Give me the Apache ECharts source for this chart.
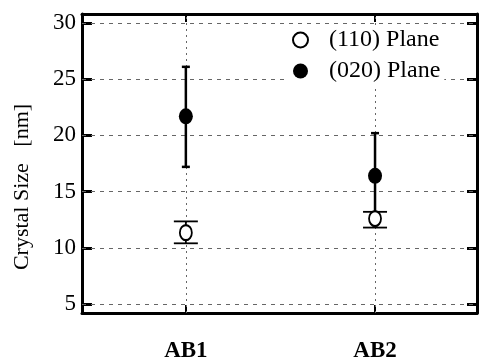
<!DOCTYPE html>
<html>
<head>
<meta charset="utf-8">
<script src="https://cdn.jsdelivr.net/npm/echarts@6/dist/echarts.min.js"></script>
<style>html,body{margin:0;padding:0;background:#fff}#c{width:479px;height:363px}</style>
</head>
<body>
<div id="c"></div>
<script>
var categories = ['AB1', 'AB2'];
var categoryPos = [1, 2];
var yTicks = [5, 10, 15, 20, 25, 30];
var plane110 = [11.35, 12.6];
var plane110Low = [10.4, 11.8];
var plane110High = [12.35, 13.2];
var plane020 = [21.7, 16.4];
var plane020Low = [17.2, 12.4];
var plane020High = [26.1, 20.2];
var yName = 'Crystal Size   [nm]';
var legendNames = ['(110) Plane', '(020) Plane'];

var FONT = '"Liberation Serif", "Times New Roman", Times, serif';
var XMIN = 0.451, XMAX = 2.539, YMIN = 4.2, YMAX = 30.8;

function errData(low, high) {
  return categoryPos.map(function (x, i) { return [x, low[i], high[i]]; });
}
function errRender(capHalf, lw) {
  return function (params, api) {
    var x = api.value(0);
    var lo = api.coord([x, api.value(1)]);
    var hi = api.coord([x, api.value(2)]);
    var st = { stroke: '#000', lineWidth: lw };
    return { type: 'group', children: [
      { type: 'line', shape: { x1: lo[0], y1: lo[1], x2: hi[0], y2: hi[1] }, style: st },
      { type: 'line', shape: { x1: lo[0] - capHalf, y1: lo[1], x2: lo[0] + capHalf, y2: lo[1] }, style: st },
      { type: 'line', shape: { x1: hi[0] - capHalf, y1: hi[1], x2: hi[0] + capHalf, y2: hi[1] }, style: st }
    ]};
  };
}

var gridLines = yTicks.map(function (v) { return { yAxis: v, lineStyle: { type: [4, 5], color: '#666', width: 1 } }; })
  .concat(categoryPos.map(function (v) { return { xAxis: v, lineStyle: { type: [2, 4], color: '#666', width: 1 } }; }));

var chart = echarts.init(document.getElementById('c'), null, { renderer: 'canvas' });
chart.setOption({
  animation: false,
  backgroundColor: '#fff',
  textStyle: { fontFamily: FONT },
  grid: { left: 82, right: 2, top: 14, bottom: 48, containLabel: false },
  legend: {
    orient: 'vertical', left: 288, top: 26, itemGap: 7,
    itemWidth: 15, itemHeight: 15,
    backgroundColor: '#fff', padding: [2, 4, 2, 4],
    textStyle: { fontFamily: FONT, fontSize: 24, color: '#000', padding: [0, 0, 0, 16] },
    data: legendNames
  },
  graphic: [{
    type: 'text', x: 22, y: 187, rotation: Math.PI / 2,
    style: { text: yName, fontFamily: FONT, fontSize: 22, fill: '#000', align: 'center', verticalAlign: 'middle' }
  }],
  xAxis: [{
    type: 'value', min: XMIN, max: XMAX, position: 'bottom',
    axisLine: { show: true, onZero: false, lineStyle: { color: '#000', width: 3 } },
    axisTick: { show: true, inside: true, length: 8, customValues: categoryPos, lineStyle: { color: '#000', width: 2 } },
    axisLabel: { show: true, customValues: categoryPos, margin: 27, fontFamily: FONT, fontSize: 23, fontWeight: 'bold', color: '#000',
      formatter: function (v) { var i = categoryPos.indexOf(Math.round(v)); return i >= 0 ? categories[i] : ''; } },
    splitLine: { show: false }
  }, {
    type: 'value', min: XMIN, max: XMAX, position: 'top',
    axisLine: { show: true, onZero: false, lineStyle: { color: '#000', width: 3 } },
    axisTick: { show: true, inside: true, length: 8, customValues: categoryPos, lineStyle: { color: '#000', width: 2 } },
    axisLabel: { show: false }, splitLine: { show: false }
  }],
  yAxis: [{
    type: 'value', min: YMIN, max: YMAX, position: 'left',
    axisLine: { show: true, onZero: false, lineStyle: { color: '#000', width: 3 } },
    axisTick: { show: true, inside: true, length: 10, customValues: yTicks, lineStyle: { color: '#000', width: 3 } },
    axisLabel: { show: true, customValues: yTicks, margin: 6, fontFamily: FONT, fontSize: 23, color: '#000' },
    splitLine: { show: false }
  }, {
    type: 'value', min: YMIN, max: YMAX, position: 'right',
    axisLine: { show: true, onZero: false, lineStyle: { color: '#000', width: 3 } },
    axisTick: { show: true, inside: true, length: 10, customValues: yTicks, lineStyle: { color: '#000', width: 3 } },
    axisLabel: { show: false }, splitLine: { show: false }
  }],
  series: [{
    type: 'custom', name: 'err110', xAxisIndex: 0, yAxisIndex: 0, z: 2,
    renderItem: errRender(12, 1.8), encode: { x: 0, y: [1, 2] },
    data: errData(plane110Low, plane110High),
    markLine: { silent: true, symbol: 'none', label: { show: false }, data: gridLines, z: 1 }
  }, {
    type: 'custom', name: 'err020', xAxisIndex: 0, yAxisIndex: 0, z: 3,
    renderItem: errRender(4, 2.5), encode: { x: 0, y: [1, 2] },
    data: errData(plane020Low, plane020High)
  }, {
    type: 'scatter', name: legendNames[0], z: 5, symbol: 'circle', symbolSize: [12, 15],
    itemStyle: { color: '#fff', borderColor: '#000', borderWidth: 2, opacity: 1 },
    data: categoryPos.map(function (x, i) { return [x, plane110[i]]; })
  }, {
    type: 'scatter', name: legendNames[1], z: 5, symbol: 'circle', symbolSize: [14, 16],
    itemStyle: { color: '#000', borderColor: '#000', borderWidth: 0, opacity: 1 },
    data: categoryPos.map(function (x, i) { return [x, plane020[i]]; })
  }]
});
</script>
</body>
</html>
